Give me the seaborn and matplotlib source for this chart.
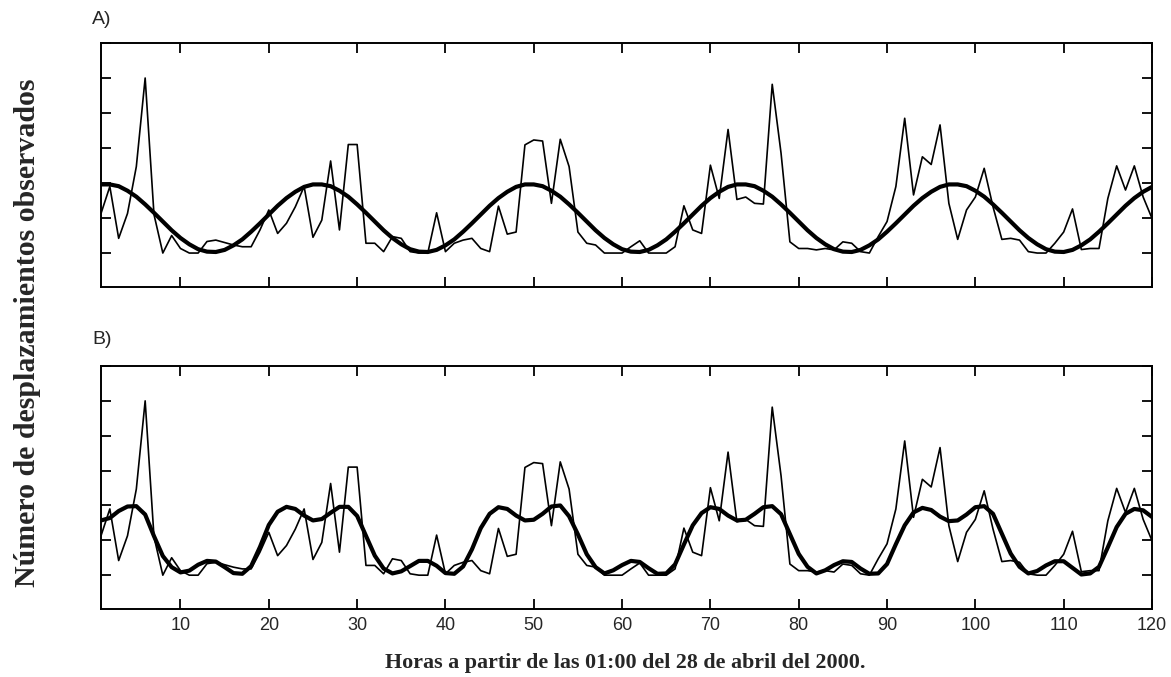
import matplotlib
matplotlib.use("Agg")
import matplotlib.pyplot as plt
import seaborn as sns
import pandas as pd
import numpy as np

# ---------------- data ----------------
hours = list(range(1, 121))

observed = [
    1.13, 1.90, 0.42, 1.13, 2.47, 5.00, 1.10, 0.00, 0.50, 0.13,
    0.00, 0.00, 0.33, 0.37, 0.30, 0.23, 0.18, 0.18, 0.66, 1.23,
    0.56, 0.85, 1.32, 1.90, 0.45, 0.94, 2.63, 0.66, 3.10, 3.10,
    0.28, 0.28, 0.04, 0.47, 0.42, 0.04, 0.00, 0.00, 1.15, 0.04,
    0.28, 0.37, 0.42, 0.13, 0.04, 1.34, 0.54, 0.60, 3.09, 3.23,
    3.20, 1.42, 3.25, 2.47, 0.60, 0.28, 0.23, 0.00, 0.00, 0.00,
    0.18, 0.35, 0.00, 0.00, 0.00, 0.18, 1.35, 0.66, 0.56, 2.51,
    1.56, 3.53, 1.53, 1.60, 1.42, 1.40, 4.82, 2.85, 0.32, 0.13,
    0.13, 0.09, 0.13, 0.09, 0.32, 0.28, 0.04, 0.00, 0.47, 0.90,
    1.90, 3.85, 1.66, 2.75, 2.53, 3.66, 1.42, 0.39, 1.23, 1.60,
    2.42, 1.32, 0.39, 0.42, 0.37, 0.04, 0.00, 0.00, 0.28, 0.60,
    1.26, 0.10, 0.13, 0.13, 1.56, 2.49, 1.80, 2.49, 1.60, 0.99,
]

fit_a = [
    1.96, 1.96, 1.91, 1.78, 1.61, 1.39, 1.15, 0.90, 0.65, 0.43,
    0.25, 0.11, 0.04, 0.03, 0.09, 0.22, 0.39, 0.61, 0.85, 1.10,
    1.35, 1.57, 1.75, 1.89, 1.96, 1.96, 1.91, 1.78, 1.61, 1.39,
    1.15, 0.90, 0.65, 0.43, 0.25, 0.11, 0.04, 0.03, 0.09, 0.22,
    0.39, 0.61, 0.85, 1.10, 1.35, 1.57, 1.75, 1.89, 1.96, 1.96,
    1.91, 1.78, 1.61, 1.39, 1.15, 0.90, 0.65, 0.43, 0.25, 0.11,
    0.04, 0.03, 0.09, 0.22, 0.39, 0.61, 0.85, 1.10, 1.35, 1.57,
    1.75, 1.89, 1.96, 1.96, 1.91, 1.78, 1.61, 1.39, 1.15, 0.90,
    0.65, 0.43, 0.25, 0.11, 0.04, 0.03, 0.09, 0.22, 0.39, 0.61,
    0.85, 1.10, 1.35, 1.57, 1.75, 1.89, 1.96, 1.96, 1.91, 1.78,
    1.61, 1.39, 1.15, 0.90, 0.65, 0.43, 0.25, 0.11, 0.04, 0.03,
    0.09, 0.22, 0.39, 0.61, 0.85, 1.10, 1.35, 1.57, 1.75, 1.89,
]

fit_b = [
    1.57, 1.64, 1.84, 1.97, 1.98, 1.74, 1.12, 0.55, 0.23, 0.08,
    0.13, 0.30, 0.41, 0.39, 0.23, 0.06, 0.04, 0.26, 0.81, 1.44,
    1.82, 1.96, 1.90, 1.71, 1.57, 1.61, 1.79, 1.96, 1.96, 1.70,
    1.13, 0.56, 0.19, 0.05, 0.11, 0.26, 0.41, 0.41, 0.27, 0.06,
    0.04, 0.25, 0.74, 1.35, 1.76, 1.95, 1.90, 1.71, 1.57, 1.59,
    1.76, 1.97, 2.00, 1.69, 1.17, 0.60, 0.23, 0.05, 0.14, 0.29,
    0.41, 0.38, 0.20, 0.04, 0.05, 0.31, 0.88, 1.43, 1.78, 1.95,
    1.90, 1.71, 1.57, 1.59, 1.76, 1.95, 1.98, 1.75, 1.18, 0.61,
    0.24, 0.05, 0.14, 0.29, 0.40, 0.38, 0.19, 0.04, 0.05, 0.32,
    0.89, 1.43, 1.80, 1.93, 1.87, 1.68, 1.55, 1.57, 1.74, 1.95,
    1.98, 1.76, 1.19, 0.62, 0.24, 0.05, 0.12, 0.28, 0.40, 0.40,
    0.21, 0.02, 0.05, 0.24, 0.80, 1.38, 1.76, 1.90, 1.86, 1.67,
]

xtick_values = [10, 20, 30, 40, 50, 60, 70, 80, 90, 100, 110, 120]
ytick_values = [0, 1, 2, 3, 4, 5, 6]
panel_labels = ["A)", "B)"]
xlabel_text = "Horas a partir de las 01:00 del 28 de abril del 2000."
ylabel_text = "Número de desplazamientos observados"

# ---------------- figure ----------------
sns.set_style("white")
plt.rcParams["font.family"] = ["Liberation Serif", "DejaVu Serif"]

fig = plt.figure(figsize=(11.71, 6.77), dpi=100)
W, H = 1171, 677

def ax_rect(left, top, right, bottom):
    return [left / W, 1 - bottom / H, (right - left) / W, (bottom - top) / H]

ax_a = fig.add_axes(ax_rect(101, 43, 1152, 287))
ax_b = fig.add_axes(ax_rect(101, 366, 1152, 609))

df_a = pd.DataFrame({"hora": hours, "obs": observed, "fit": fit_a})
df_b = pd.DataFrame({"hora": hours, "obs": observed, "fit": fit_b})

for ax, df in [(ax_a, df_a), (ax_b, df_b)]:
    sns.lineplot(data=df, x="hora", y="obs", ax=ax, color="black",
                 linewidth=1.2, legend=False)
    sns.lineplot(data=df, x="hora", y="fit", ax=ax, color="black",
                 linewidth=3.0, legend=False)
    ax.set_xlim(1, 120)
    ax.set_ylim(-0.97, 6.0)
    ax.set_xticks(xtick_values)
    ax.set_yticks(ytick_values)
    ax.set_xlabel("")
    ax.set_ylabel("")
    ax.set_yticklabels([])
    ax.tick_params(axis="both", direction="in", length=7.5, width=1.3,
                   top=True, right=True, bottom=True, left=True,
                   color="black")
    for sp in ax.spines.values():
        sp.set_visible(True)
        sp.set_color("black")
        sp.set_linewidth(1.4)

ax_a.set_xticklabels([])
ax_b.set_xticklabels([str(v) for v in xtick_values],
                     fontfamily="Liberation Sans", fontsize=13)
ax_b.tick_params(axis="x", pad=6)

fig.text(92 / W, 1 - 19 / H, panel_labels[0], fontfamily="Liberation Sans",
         fontsize=14, ha="left", va="center")
fig.text(92 / W, 1 - 339 / H, panel_labels[1], fontfamily="Liberation Sans",
         fontsize=14, ha="left", va="center")

fig.text(625 / W, 1 - 663 / H, xlabel_text, fontsize=15.8, fontweight="bold",
         ha="center", va="center")
fig.text(28 / W, 1 - 333 / H, ylabel_text, fontsize=21.5, fontweight="bold",
         ha="center", va="center", rotation=90)

fig.savefig("out.png", dpi=100, facecolor="white")
